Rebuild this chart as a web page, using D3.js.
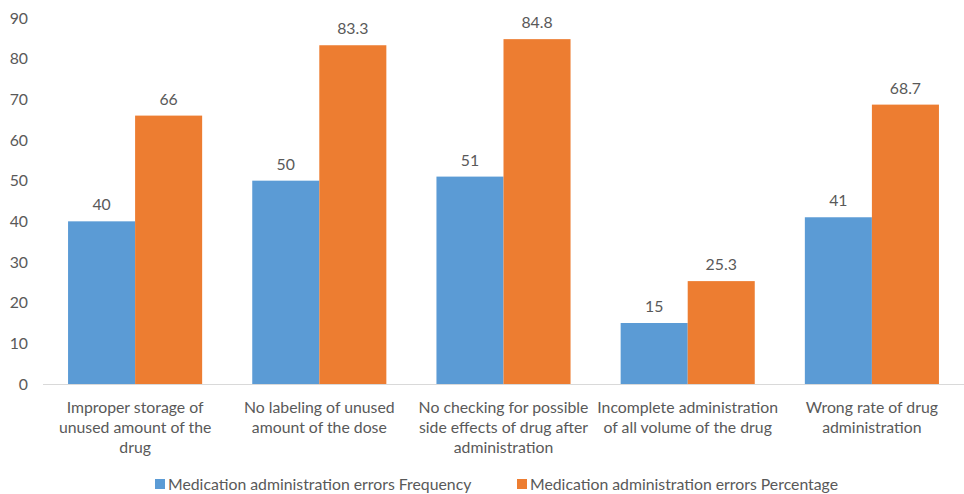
<!DOCTYPE html>
<html>
<head>
<meta charset="utf-8">
<script src="https://cdn.jsdelivr.net/npm/d3@7"></script>
<style>
  html, body { margin: 0; padding: 0; background: #fff; }
  svg text { font-family: Lato, "Open Sans", sans-serif; fill: #595959; }
</style>
</head>
<body>
<svg id="chart" width="964" height="494"></svg>
<script>
const categories = [
  "Improper storage of\nunused amount of the\ndrug",
  "No labeling of unused\namount of the dose",
  "No checking for possible\nside effects of drug after\nadministration",
  "Incomplete administration\nof all volume of the drug",
  "Wrong rate of drug\nadministration"
];
const seriesNames = [
  "Medication administration errors Frequency",
  "Medication administration errors Percentage"
];
const frequency = [40, 50, 51, 15, 41];
const percentage = [66, 83.3, 84.8, 25.3, 68.7];
const frequencyLabels = ["40", "50", "51", "15", "41"];
const percentageLabels = ["66", "83.3", "84.8", "25.3", "68.7"];
const yTicks = [0, 10, 20, 30, 40, 50, 60, 70, 80, 90];
const colors = ["#5B9BD5", "#ED7D31"];

const svg = d3.select("#chart");
const plotLeft = 43, plotRight = 964, plotTop = 18, plotBottom = 384;
const fs = "15.8px";

const y = d3.scaleLinear().domain([0, 90]).range([plotBottom, plotTop]);
const x0 = d3.scaleBand().domain(categories.map((d, i) => i))
  .range([plotLeft, plotRight]).paddingInner(0.272).paddingOuter(0.136);
const x1 = d3.scaleBand().domain([0, 1]).range([0, x0.bandwidth()]);

const series = [frequency, percentage];
const labels = [frequencyLabels, percentageLabels];

// y axis labels
const yAxis = d3.axisLeft(y).tickValues(yTicks).tickSize(0).tickPadding(0);
const yg = svg.append("g").attr("transform", `translate(28,0)`).call(yAxis);
yg.select(".domain").remove();
yg.selectAll("text").style("font-size", fs).style("font-family", "Lato, 'Open Sans', sans-serif").attr("fill", "#595959");

// bars
categories.forEach((c, i) => {
  const g = svg.append("g").attr("transform", `translate(${x0(i)},0)`);
  series.forEach((s, k) => {
    g.append("rect")
      .attr("x", x1(k))
      .attr("y", y(s[i]))
      .attr("width", x1.bandwidth())
      .attr("height", y(0) - y(s[i]))
      .attr("fill", colors[k]);
    g.append("text")
      .attr("x", x1(k) + x1.bandwidth() / 2)
      .attr("y", y(s[i]) - 11)
      .attr("text-anchor", "middle")
      .style("font-size", fs)
      .text(labels[k][i]);
  });
});

// x axis line
svg.append("line")
  .attr("x1", plotLeft).attr("x2", plotRight)
  .attr("y1", y(0) + 0.5).attr("y2", y(0) + 0.5)
  .attr("stroke", "#D9D9D9").attr("stroke-width", 1);

// category labels
categories.forEach((c, i) => {
  const t = svg.append("text")
    .attr("text-anchor", "middle")
    .style("font-size", fs);
  c.split("\n").forEach((line, j) => {
    t.append("tspan")
      .attr("x", x0(i) + x0.bandwidth() / 2)
      .attr("y", 413 + j * 20)
      .text(line);
  });
});

// legend
const legendX = [155, 517];
seriesNames.forEach((n, k) => {
  svg.append("rect")
    .attr("x", legendX[k]).attr("y", 479)
    .attr("width", 10).attr("height", 10)
    .attr("fill", colors[k]);
  svg.append("text")
    .attr("x", legendX[k] + 13).attr("y", 490)
    .style("font-size", fs)
    .text(n);
});
</script>
</body>
</html>
